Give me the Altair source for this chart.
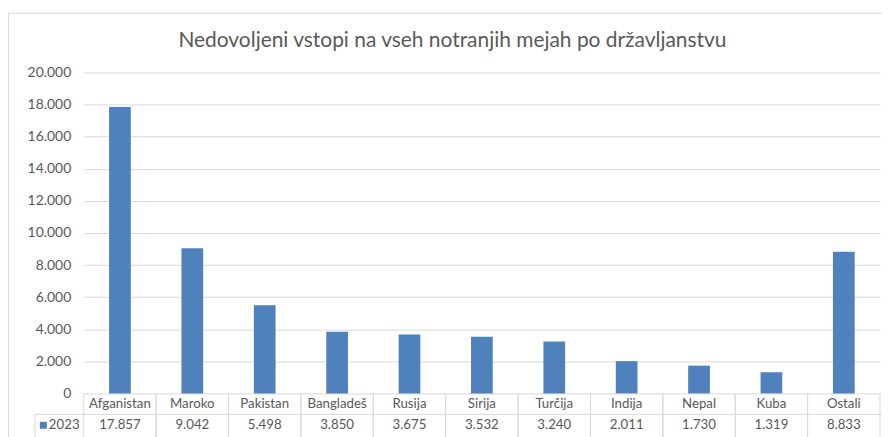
import altair as alt
import pandas as pd

# ---- data ----
categories = ["Afganistan", "Maroko", "Pakistan", "Bangladeš", "Rusija", "Sirija",
              "Turčija", "Indija", "Nepal", "Kuba", "Ostali"]
values = [17857, 9042, 5498, 3850, 3675, 3532, 3240, 2011, 1730, 1319, 8833]
series_label = "2023"
title_text = "Nedovoljeni vstopi na vseh notranjih mejah po državljanstvu"
y_ticks = [0, 2000, 4000, 6000, 8000, 10000, 12000, 14000, 16000, 18000, 20000]

df = pd.DataFrame({"cat": categories, "value": values})
one = pd.DataFrame({"series": [series_label], "title": [title_text]})

# ---- styling ----
FONT = "Lato"
TXT = "#595959"
GRID = "#D9D9D9"
BAR = "#4F81BD"
W, H = 799, 322
ROW1 = 21
FS = 13.3
thousands = "replace(format(datum.value, ','), ',', '.')"

xscale = alt.Scale(paddingInner=0, paddingOuter=0)


def xenc(bp=None):
    if bp is None:
        return alt.X("cat:N", sort=categories, scale=xscale, axis=None)
    return alt.X("cat:N", sort=categories, scale=xscale, axis=None, bandPosition=bp)


base = alt.Chart(df)

bars = base.mark_bar(color=BAR, width=alt.RelativeBandSize(0.3)).encode(
    x=xenc(),
    y=alt.Y(
        "value:Q",
        scale=alt.Scale(domain=[0, 20000], nice=False),
        axis=alt.Axis(
            values=y_ticks, grid=True, gridColor=GRID, gridWidth=1,
            domain=False, ticks=False, labelPadding=13, labelFontSize=14,
            labelColor=TXT, labelFont=FONT, title=None, labelExpr=thousands,
        ),
    ),
)

# table: vertical cell borders
vl = base.mark_rule(color=GRID, strokeWidth=1).encode(
    x=xenc(0), y=alt.value(H), y2=alt.value(H + 80)
)
vr = base.mark_rule(color=GRID, strokeWidth=1).encode(
    x=xenc(1), y=alt.value(H), y2=alt.value(H + 80)
)

# table: row-2 top border and legend-cell left border
row2_line = alt.Chart(one).mark_rule(color=GRID, strokeWidth=1).encode(
    x=alt.value(-49), x2=alt.value(W + 10), y=alt.value(H + ROW1)
)
legend_left = alt.Chart(one).mark_rule(color=GRID, strokeWidth=1).encode(
    x=alt.value(-49), y=alt.value(H + ROW1), y2=alt.value(H + 80)
)

# outer chart border (top and left)
border_top = alt.Chart(one).mark_rule(color=GRID, strokeWidth=1).encode(
    x=alt.value(-75.5), x2=alt.value(W + 10), y=alt.value(-59.5)
)
border_left = alt.Chart(one).mark_rule(color=GRID, strokeWidth=1).encode(
    x=alt.value(-75.5), y=alt.value(-59.5), y2=alt.value(H + 80)
)

names = base.mark_text(font=FONT, fontSize=FS, color=TXT, baseline="middle").encode(
    x=xenc(), y=alt.value(H + 10.5), text="cat:N"
)
vals = base.transform_calculate(lbl=thousands).mark_text(
    font=FONT, fontSize=FS, color=TXT, baseline="middle"
).encode(x=xenc(), y=alt.value(H + 32), text="lbl:N")

legend_sq = alt.Chart(one).mark_square(color=BAR, size=49, opacity=1).encode(
    x=alt.value(-40.5), y=alt.value(H + 32)
)
legend_txt = alt.Chart(one).mark_text(
    font=FONT, fontSize=FS, color=TXT, baseline="middle", align="left"
).encode(x=alt.value(-35), y=alt.value(H + 32), text="series:N")

title = alt.Chart(one).mark_text(
    font=FONT, fontSize=21, color=TXT, baseline="middle", align="center"
).encode(x=alt.value(370), y=alt.value(-32), text="title:N")

chart = alt.layer(
    bars, vl, vr, row2_line, legend_left, border_top, border_left,
    names, vals, legend_sq, legend_txt, title,
).properties(
    width=W, height=H,
    padding={"left": 76, "top": 64, "right": 2, "bottom": 43},
    autosize=alt.AutoSizeParams(type="none"),
    background="white",
).configure_view(stroke=None)

chart.save("out.html", embed_options={"renderer": "svg", "actions": False})
